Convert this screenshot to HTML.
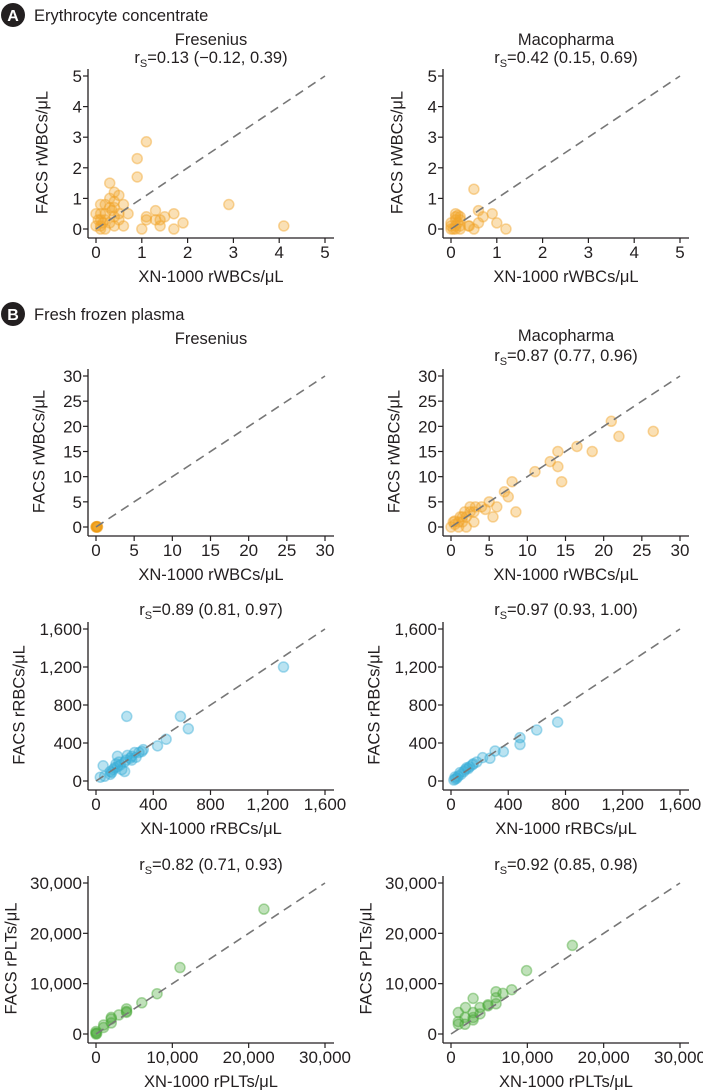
<!DOCTYPE html>
<html><head><meta charset="utf-8">
<style>
html,body{margin:0;padding:0;background:#fff;}
svg{display:block;font-family:"Liberation Sans",Arial,sans-serif;fill:#231f20;}
</style></head>
<body>
<svg id="fig" width="703" height="1091" viewBox="0 0 703 1091" xmlns="http://www.w3.org/2000/svg">
<g>
<circle cx="13" cy="15" r="12" fill="#231f20"/>
<text x="13" y="21" font-size="16" font-weight="bold" fill="#fff" text-anchor="middle">A</text>
<text x="34" y="21" font-size="16.5">Erythrocyte concentrate</text>
</g>
<g>
<circle cx="13" cy="314" r="12" fill="#231f20"/>
<text x="13" y="320" font-size="16" font-weight="bold" fill="#fff" text-anchor="middle">B</text>
<text x="34" y="320" font-size="16.5">Fresh frozen plasma</text>
</g>
</svg>
<script>
// ---- data ----
const ecFreX = [1.1,0.9,0.9,0.3,0.4,0.5,0.4,0.3,0.2,0.1,0.6,0.4,0.3,0.7,0.5,0.2,0.1,0.0,0.1,0.2,0.3,0.0,0.1,0.2,0.4,0.6,0.1,0.4,0.5,1.0,1.1,1.1,1.3,1.3,1.4,1.4,1.5,1.7,1.7,1.9,2.9,4.1,0.15,0.35,0.05];
const ecFreY = [2.85,2.3,1.7,1.5,1.2,1.1,0.9,1.0,0.8,0.8,0.8,0.7,0.7,0.5,0.5,0.5,0.5,0.5,0.3,0.3,0.2,0.1,0.1,0.0,0.1,0.1,0.0,0.4,0.3,0.0,0.4,0.3,0.6,0.3,0.3,0.1,0.4,0.5,0.0,0.2,0.8,0.1,0.2,0.6,0.3];
const ecMacX = [0.5,0.6,0.9,0.7,0.6,1.0,1.2,0.5,0.4,0.38,0.1,0.2,0.1,0.2,0.1,0.15,0.0,0.0,0.05,0.1,0.2,0.0,0.1,0.2,0.15];
const ecMacY = [1.3,0.6,0.5,0.4,0.2,0.2,0.0,0.0,0.1,0.1,0.5,0.4,0.4,0.3,0.3,0.2,0.2,0.1,0.0,0.0,0.1,0.0,0.1,0.0,0.45];
const wbcFreX = [0.1,0.05,0.15,0.0,0.2];
const wbcFreY = [0.0,0.05,0.1,0.0,0.0];
const wbcMacX = [21,22,26.5,16.5,18.5,14,14,13,14.5,11,8,7.5,8.5,7,5,6,5.5,4,4.5,3,3.2,2.5,1.5,2,1.8,1,0.5,0.5,1,2,0,1.5,3,2.5,0.3,1.2];
const wbcMacY = [21,18,19,16,15,15,12,13,9,11,9,6,3,7,5,4,2,4,3.5,3,4,3,2,2,3,1,0.5,1.2,0,0,0,1,1,4,1,2];
const rbcFreX = [1310,590,215,645,490,430,330,300,270,250,220,150,50,30,100,120,150,170,200,180,100,200,250,140,280,320,110,160,210,240,130,60];
const rbcFreY = [1200,680,680,550,440,370,330,300,300,260,270,260,160,40,100,120,150,170,200,120,70,100,220,180,250,310,90,200,220,240,140,50];
const rbcMacX = [745,599,482,482,366,308,272,221,156,110,63,28,30,50,70,90,120,150,20,40,100,130,180];
const rbcMacY = [620,537,456,384,309,316,239,246,182,140,88,42,20,50,70,100,130,170,10,30,120,150,200];
const pltFreX = [22000,11000,8000,6000,4000,4000,3000,2000,2000,1000,1000,0,0,0,100,2000,4000];
const pltFreY = [24800,13200,8000,6200,5000,4300,3800,3300,2200,1800,1300,500,0,200,100,3000,4500];
const pltMacX = [15900,9900,2900,1900,960,7950,6800,5900,5900,4850,3800,2900,2900,1830,960,960,1830,3800,4850,5900,2900];
const pltMacY = [17600,12600,7070,5270,4270,8800,8070,8400,7200,5800,5270,4270,3270,3270,2470,1930,1930,4000,5600,6000,2800];
const wbcTicks5 = [0,1,2,3,4,5];
const wbcTicks30 = [0,5,10,15,20,25,30];
const rbcTicks = [0,400,800,1200,1600];
const pltTicks = [0,10000,20000,30000];

const NS="http://www.w3.org/2000/svg";
const svg=document.getElementById('fig');
function el(tag,attrs,parent){const e=document.createElementNS(NS,tag);for(const k in attrs)e.setAttribute(k,attrs[k]);(parent||svg).appendChild(e);return e;}
function fmt(v){return v.toLocaleString('en-US');}

const panels=[
 {name:'ec-fresenius',col:0,y0:229,ym:76,max:5,ticks:wbcTicks5,xs:ecFreX,ys:ecFreY,color:'#f2a52a',xt:'XN-1000 rWBCs/μL',yt:'FACS rWBCs/μL',ytx:43,titles:[['Fresenius',45]],rs:['=0.13 (−0.12, 0.39)',63]},
 {name:'ec-macopharma',col:1,y0:229,ym:76,max:5,ticks:wbcTicks5,xs:ecMacX,ys:ecMacY,color:'#f2a52a',xt:'XN-1000 rWBCs/μL',yt:'FACS rWBCs/μL',ytx:43,titles:[['Macopharma',45]],rs:['=0.42 (0.15, 0.69)',63]},
 {name:'ffp-wbc-fresenius',col:0,y0:527,ym:376,max:30,ticks:wbcTicks30,xs:wbcFreX,ys:wbcFreY,color:'#ee9a10',xt:'XN-1000 rWBCs/μL',yt:'FACS rWBCs/μL',ytx:40,titles:[['Fresenius',344]],rs:null},
 {name:'ffp-wbc-macopharma',col:1,y0:527,ym:376,max:30,ticks:wbcTicks30,xs:wbcMacX,ys:wbcMacY,color:'#f2a52a',xt:'XN-1000 rWBCs/μL',yt:'FACS rWBCs/μL',ytx:40,titles:[['Macopharma',341]],rs:['=0.87 (0.77, 0.96)',361]},
 {name:'ffp-rbc-fresenius',col:0,y0:781,ym:629,max:1600,ticks:rbcTicks,xs:rbcFreX,ys:rbcFreY,color:'#3aaed6',xt:'XN-1000 rRBCs/μL',yt:'FACS rRBCs/μL',ytx:20,titles:[],rs:['=0.89 (0.81, 0.97)',615]},
 {name:'ffp-rbc-macopharma',col:1,y0:781,ym:629,max:1600,ticks:rbcTicks,xs:rbcMacX,ys:rbcMacY,color:'#3aaed6',xt:'XN-1000 rRBCs/μL',yt:'FACS rRBCs/μL',ytx:20,titles:[],rs:['=0.97 (0.93, 1.00)',615]},
 {name:'ffp-plt-fresenius',col:0,y0:1034,ym:883,max:30000,ticks:pltTicks,xs:pltFreX,ys:pltFreY,color:'#4aa838',xt:'XN-1000 rPLTs/μL',yt:'FACS rPLTs/μL',ytx:12,titles:[],rs:['=0.82 (0.71, 0.93)',870]},
 {name:'ffp-plt-macopharma',col:1,y0:1034,ym:883,max:30000,ticks:pltTicks,xs:pltMacX,ys:pltMacY,color:'#4aa838',xt:'XN-1000 rPLTs/μL',yt:'FACS rPLTs/μL',ytx:12,titles:[],rs:['=0.92 (0.85, 0.98)',870]}
];

panels.forEach(p=>{
  const off=p.col*355, x0=96+off, W=229;
  const sx=v=>x0+v/p.max*W;
  const sy=v=>p.y0-v/p.max*(p.y0-p.ym);
  const g=el('g',{});
  
  
  const cx=x0+115;
  p.titles.forEach(t=>{const e=el('text',{x:cx,y:t[1],'font-size':16.5,'text-anchor':'middle'},g);e.textContent=t[0];
    
    });
  if(p.rs){const e=el('text',{x:cx,y:p.rs[1],'font-size':16.5,'text-anchor':'middle'},g);
    
    
    const a=el('tspan',{},e);a.textContent='r';
    const b=el('tspan',{'font-size':11,dy:4},e);b.textContent='S';
    const c=el('tspan',{dy:-4},e);c.textContent=p.rs[0];}
  const ax=x0-8, ay=p.y0+9;
  const ya=el('line',{x1:ax,y1:p.ym-7,x2:ax,y2:ay,stroke:'#231f20','stroke-width':1.3},g);
  
  
  const xa=el('line',{x1:ax,y1:ay,x2:x0+238,y2:ay,stroke:'#231f20','stroke-width':1.3},g);
  
  
  p.ticks.forEach(t=>{
    el('line',{x1:ax-5,y1:sy(t),x2:ax,y2:sy(t),stroke:'#231f20','stroke-width':1.2},g);
    const ty=el('text',{x:ax-6,y:sy(t)+6,'font-size':17,'text-anchor':'end'},g);ty.textContent=fmt(t);
    
    
    el('line',{x1:sx(t),y1:ay,x2:sx(t),y2:ay+5,stroke:'#231f20','stroke-width':1.2},g);
    const tx=el('text',{x:sx(t),y:p.y0+29,'font-size':17,'text-anchor':'middle'},g);tx.textContent=fmt(t);
    
    
  });
  const xt=el('text',{x:cx,y:p.y0+53,'font-size':16.5,'text-anchor':'middle'},g);xt.textContent=p.xt;
  
  
  const yx=p.ytx+off, ymid=(p.y0+p.ym)/2;
  const yt=el('text',{x:yx,y:ymid,'font-size':16.5,'text-anchor':'middle',transform:`rotate(-90 ${yx} ${ymid})`,'dominant-baseline':'middle'},g);yt.textContent=p.yt;
  
  
  p.xs.forEach((v,i)=>{
    const c=el('circle',{cx:sx(v),cy:sy(p.ys[i]),r:5,fill:p.color,'fill-opacity':0.35,stroke:p.color,'stroke-opacity':0.45,'stroke-width':1.5},g);
    
    
  });
  const d=el('line',{x1:sx(0),y1:sy(0),x2:sx(p.max),y2:sy(p.max),stroke:'#777','stroke-width':1.6,'stroke-dasharray':'9,6'},g);
  
  
});
</script>
</body></html>
